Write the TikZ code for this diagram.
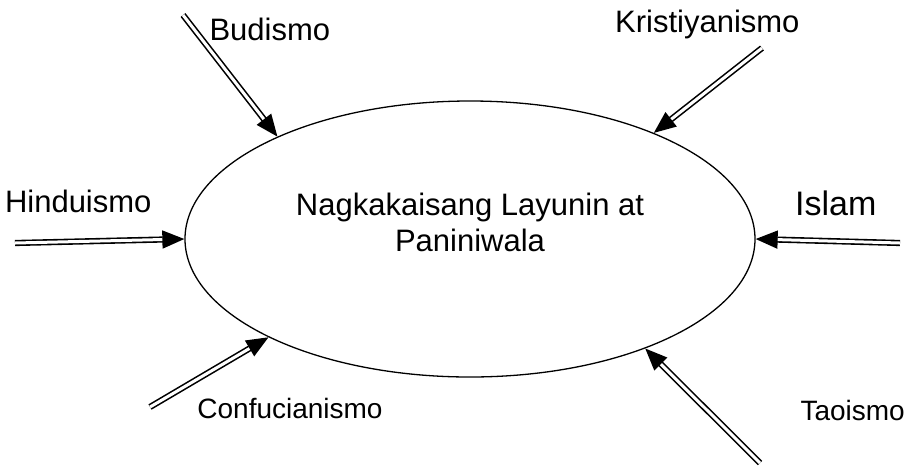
\documentclass[tikz,border=0pt]{standalone}
\usepackage{fontspec}
\setmainfont{Liberation Sans}
\usetikzlibrary{arrows.meta,shapes.geometric}

\tikzset{
	religion/.style={double,double distance=3pt,line width=1.6pt,
		-{Triangle[length=22pt,width=18pt]}},
	faith/.style={font=\fontsize{31}{36}\selectfont},
	smallfaith/.style={font=\fontsize{28}{32}\selectfont}
}

\begin{document}
\begin{tikzpicture}[x=1pt,y=-1pt]

		\useasboundingbox (0,0) rectangle (910,467);

		\node [draw,ellipse,line width=1.3pt,minimum width=570pt,minimum height=276pt,inner sep=0pt] (core) at (470,239) {};
		\node [faith,align=center] (goal) at (470,222) {Nagkakaisang Layunin at\\Paniniwala};

		\coordinate (B) at (183,15) ;
		\coordinate (K) at (762,48) ;
		\coordinate (H) at (15,243) ;
		\coordinate (I) at (900,243) ;
		\coordinate (C) at (150,407) ;
		\coordinate (T) at (760,463) ;

		\draw (206,40) node [faith,anchor=base west] {Budismo} ;
		\draw (803,32) node [faith,anchor=base east] {Kristiyanismo} ;
		\draw (155,212) node [faith,anchor=base east] {Hinduismo} ;
		\draw (880,215) node [font=\fontsize{34}{40}\selectfont,anchor=base east] {Islam} ;
		\draw (290,418) node [smallfaith,anchor=base] {Confucianismo} ;
		\draw (797,420) node [smallfaith,anchor=base west] {Taoismo} ;

		\foreach \s/\a in {B/152,K/30,H/180,I/0,C/-154,T/-32}
			\draw [religion] (\s) -- (core.\a) ;

\end{tikzpicture}
\end{document}
